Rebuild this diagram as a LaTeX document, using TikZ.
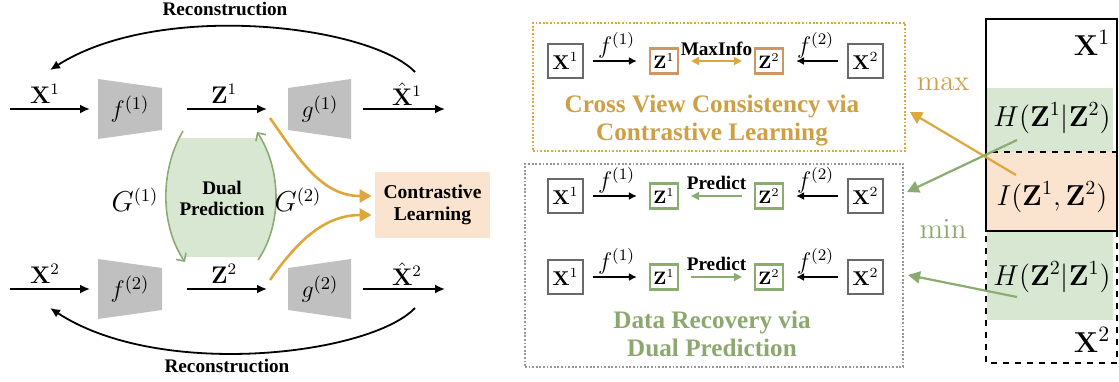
\documentclass[tikz,border=0pt]{standalone}
\usepackage[no-math]{fontspec}
\setmainfont{Liberation Serif}
\usepackage{amsmath}
\usetikzlibrary{arrows.meta}

\definecolor{boxgray}{RGB}{192,192,192}
\definecolor{framegray}{RGB}{105,105,105}
\definecolor{dpgreen}{RGB}{216,231,210}
\definecolor{linegreen}{RGB}{138,172,112}
\definecolor{txtgreen}{RGB}{140,168,110}
\definecolor{clorange}{RGB}{251,228,207}
\definecolor{gold}{RGB}{221,167,60}
\definecolor{txtgold}{RGB}{205,160,70}
\definecolor{zorange}{RGB}{205,150,100}

\begin{document}
\begin{tikzpicture}[x=0.5pt,y=-0.5pt,
	lbl/.style={font=\fontsize{9.6}{10.5}\selectfont\bfseries,inner sep=1pt},
	mlbl/.style={font=\fontsize{12}{14}\selectfont,inner sep=0pt},
	glbl/.style={font=\fontsize{13.5}{15}\selectfont,inner sep=1pt},
	rlbl/.style={font=\fontsize{14}{16}\selectfont,inner sep=1pt},
	vbox/.style={draw=framegray,line width=1.1pt,minimum width=17.5pt,minimum height=17pt,inner sep=0pt,font=\fontsize{10}{12}\selectfont},
	zbox/.style={line width=1.1pt,minimum width=14pt,minimum height=12.5pt,inner sep=0pt,font=\fontsize{9}{11}\selectfont},
	blk/.style={-{Latex[length=5pt,width=4.5pt]},line width=0.9pt},
	sblk/.style={-{Latex[length=4pt,width=4pt]},line width=0.8pt,shorten <=4.5pt,shorten >=6pt},
	goldarr/.style={-{Triangle[length=6pt,width=6.5pt]},draw=gold,line width=1.3pt},
	greenarr/.style={-{Triangle[length=6pt,width=6pt]},draw=linegreen,line width=1.1pt},
	dualarc/.style={-{Straight Barb[length=3pt,width=6pt]},draw=linegreen,line width=0.8pt},
	dotbox/.style={line width=1.3pt,dash pattern=on 0.9pt off 0.9pt}
	]
	\useasboundingbox (0,0) rectangle (1119,381);

	% encoders and decoders
	\foreach \i/\y in {1/109,2/289}{
		\fill[boxgray] (98,\y-30) -- (162,\y-21) -- (162,\y+21) -- (98,\y+30) -- cycle;
		\fill[boxgray] (288,\y-21) -- (351,\y-30) -- (351,\y+30) -- (288,\y+21) -- cycle;
		\node[mlbl,font=\fontsize{13}{15}\selectfont] (f\i) at (130,\y) {$f^{(\i)}$};
		\node[mlbl,font=\fontsize{13}{15}\selectfont] (g\i) at (320,\y) {$g^{(\i)}$};
		\node[mlbl] (x\i) at (45,\y-15) {$\mathbf{X}^\i$};
		\node[mlbl] (z\i) at (224,\y-15) {$\mathbf{Z}^\i$};
		\node[mlbl] (xh\i) at (407,\y-15) {$\hat{\mathbf{X}}^\i$};
		\coordinate (in\i) at (10,\y);  \coordinate (fin\i) at (90,\y);
		\coordinate (zs\i) at (187,\y); \coordinate (ze\i) at (267,\y);
		\coordinate (os\i) at (363,\y); \coordinate (oe\i) at (445,\y);
		\draw[blk] (in\i) -- (fin\i);
		\draw[blk] (zs\i) -- (ze\i);
		\draw[blk] (os\i) -- (oe\i);
	}

	% reconstruction loops
	\coordinate (rt1) at (415,72);  \coordinate (rt2) at (50,70);
	\coordinate (rb1) at (415,308); \coordinate (rb2) at (50,308);
	\draw[blk] (rt1) .. controls (370,25) and (160,0) .. (rt2);
	\draw[blk] (rb1) .. controls (370,355) and (160,380) .. (rb2);
	\node[lbl] (rectop) at (225,9) {Reconstruction};
	\node[lbl] (recbot) at (227,366) {Reconstruction};

	% dual prediction
	\fill[dpgreen] (180,138) .. controls (162,175) and (162,222) .. (182,257) -- (259,257) .. controls (281,222) and (281,175) .. (260,138) -- cycle;
	\coordinate (dl1) at (183,131); \coordinate (dl2) at (185,262);
	\coordinate (dr1) at (258,260); \coordinate (dr2) at (257,132);
	\draw[dualarc] (dl1) .. controls (160,170) and (160,225) .. (dl2);
	\draw[dualarc] (dr1) .. controls (282,225) and (282,170) .. (dr2);
	\node[lbl,align=center] (dp) at (222,198) {Dual\\Prediction};
	\node[glbl] (G1) at (135,200) {$G^{(1)}$};
	\node[glbl] (G2) at (298,200) {$G^{(2)}$};

	% contrastive learning
	\node[lbl,fill=clorange,minimum width=57.5pt,minimum height=33pt,align=center,font=\fontsize{9.8}{11}\selectfont\bfseries] (cl) at (432.5,205) {Contrastive\\Learning};
	\coordinate (c1) at (270,118); \coordinate (c2) at (270,280);
	\draw[goldarr] (c1) to[out=-55,in=180] ([xshift=-1.5pt,yshift=4.5pt]cl.west);
	\draw[goldarr] (c2) to[out=55,in=180] ([xshift=-1.5pt,yshift=-5pt]cl.west);

	% middle: the two objectives
	\node[draw=gold,dotbox,minimum width=186pt,minimum height=64pt] (cvbox) at (719,87) {};
	\node[draw=framegray!70,dotbox,minimum width=189pt,minimum height=101.5pt] (drbox) at (714,265.5) {};
	\foreach \r/\y/\c in {a/61/zorange,b/196/linegreen,c/277/linegreen}{
		\node[vbox] (xa\r) at (565.5,\y) {$\mathbf{X}^1$};
		\node[vbox] (xb\r) at (865.5,\y) {$\mathbf{X}^2$};
		\node[zbox,draw=\c] (za\r) at (664,\y) {$\mathbf{Z}^1$};
		\node[zbox,draw=\c] (zb\r) at (769,\y) {$\mathbf{Z}^2$};
		\draw[sblk] (xa\r) -- node[above=1pt,mlbl,font=\fontsize{12}{14}\selectfont]{$f^{(1)}$} (za\r);
		\draw[sblk] (xb\r) -- node[above=1pt,mlbl,font=\fontsize{12}{14}\selectfont]{$f^{(2)}$} (zb\r);
	}
	\draw[{Triangle[length=4pt,width=4pt]}-{Triangle[length=4pt,width=4pt]},draw=gold,line width=1pt,shorten <=6pt,shorten >=6pt] (zaa) -- node[above=1pt,lbl]{MaxInfo} (zba);
	\draw[{Triangle[length=4pt,width=4pt]}-,draw=linegreen,line width=0.8pt,shorten <=6pt,shorten >=6pt] (zab) -- node[above=2pt,lbl]{Predict} (zbb);
	\draw[-{Triangle[length=4pt,width=4pt]},draw=linegreen,line width=0.8pt,shorten <=6pt,shorten >=6pt] (zac) -- node[above=2pt,lbl]{Predict} (zbc);
	\node[align=center,text=txtgold,font=\fontsize{12.6}{14}\selectfont\bfseries] (cvtitle) at (712,121) {Cross View Consistency via\\Contrastive Learning};
	\node[align=center,text=txtgreen,font=\fontsize{12.6}{14}\selectfont\bfseries] (drtitle) at (712,334) {Data Recovery via\\Dual Prediction};

	% right: information diagram
	\fill[dpgreen] (987,88) rectangle (1113,152);
	\fill[clorange] (987,152) rectangle (1117,231);
	\fill[dpgreen] (987,231) rectangle (1113,320);
	\draw[line width=1.2pt] (986,19) rectangle (1117,231);
	\draw[line width=1.2pt,dashed] (986,152) rectangle (1117,363);
	\node[rlbl,font=\fontsize{15}{17}\selectfont] (v1) at (1092,43) {$\mathbf{X}^1$};
	\node[rlbl,font=\fontsize{15}{17}\selectfont] (v2) at (1092,340) {$\mathbf{X}^2$};
	\node[rlbl] (h12) at (1052,118) {$H(\mathbf{Z}^1|\mathbf{Z}^2)$};
	\node[rlbl] (iz) at (1052,197) {$I(\mathbf{Z}^1,\mathbf{Z}^2)$};
	\node[rlbl] (h21) at (1052,277) {$H(\mathbf{Z}^2|\mathbf{Z}^1)$};
	\node[text=txtgold,font=\fontsize{15.5}{17}\selectfont] (max) at (943,84) {$\mathrm{max}$};
	\node[text=txtgreen,font=\fontsize{15.5}{17}\selectfont] (min) at (943,229) {$\mathrm{min}$};
	\coordinate (pmax) at (1016,175); \coordinate (tmax) at (910,112);
	\coordinate (pmin1) at (1017,140); \coordinate (tmin1) at (907,192);
	\coordinate (pmin2) at (1017,297); \coordinate (tmin2) at (908,275);
	\draw[goldarr,line width=1.1pt] (pmax) -- (tmax);
	\draw[greenarr] (pmin1) -- (tmin1);
	\draw[greenarr] (pmin2) -- (tmin2);
\end{tikzpicture}
\end{document}
